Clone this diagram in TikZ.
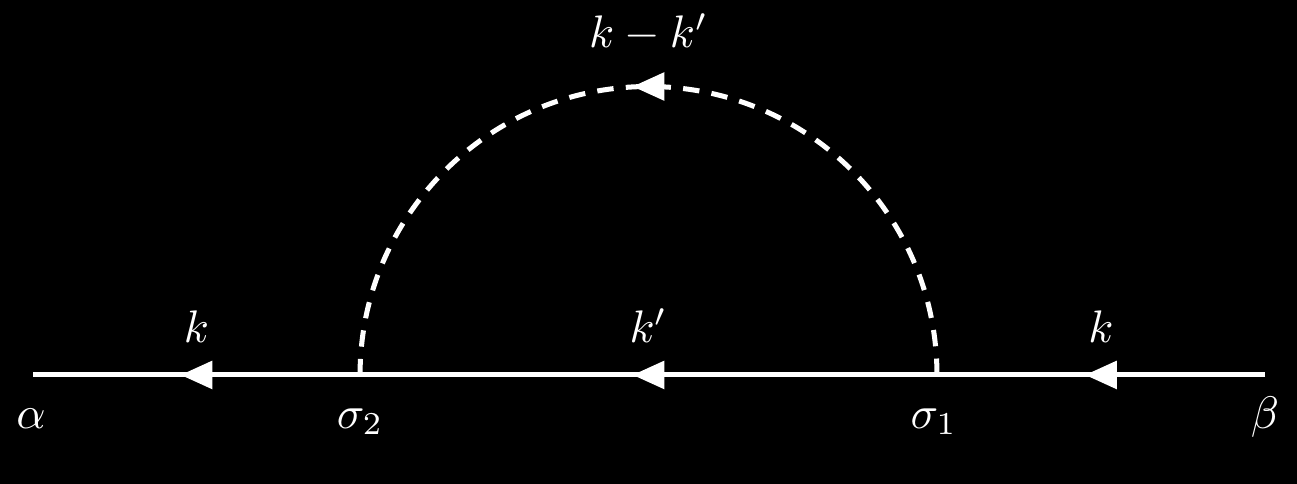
\documentclass[tikz,border=0pt]{standalone}
\usetikzlibrary{arrows.meta,decorations.markings}
\begin{document}
\begin{tikzpicture}[line width=1.1pt,
   midarrow/.style={postaction={decorate},decoration={markings,
      mark=at position 0.5 with {\arrow[xshift=3.5pt]{Triangle[length=7pt,width=6pt]}}}},
   fermion/.style={draw=white,midarrow},
   phonon/.style={draw=white,dash pattern=on 3.6pt off 2.7pt,midarrow}]
   \useasboundingbox (0,0) rectangle (10,3.724);
   \fill[black] (-0.1,-0.1) rectangle (10.1,3.824);
   \coordinate (alpha) at (0.254,0.833);
   \coordinate (sigma2) at (2.776,0.833);
   \coordinate (sigma1) at (7.224,0.833);
   \coordinate (beta) at (9.753,0.833);
   \coordinate (top) at (5,3.057);
   \draw[fermion] (beta) -- node[above=3.2pt,text=white] (kin) {$k$} (sigma1);
   \draw[fermion] (sigma1) -- node[above=3.2pt,text=white] (kmid) {$k'$} (sigma2);
   \draw[fermion] (sigma2) -- node[above=3.2pt,text=white] (kout) {$k$} (alpha);
   \draw[phonon] (sigma1) arc[start angle=0,end angle=180,radius=2.224];
   \node[above=3.8pt,text=white] (q) at (top) {$k-k'$};
   \node[anchor=base,text=white] (alabel) at (0.24,0.424) {$\alpha$};
   \node[anchor=base,text=white] (s2label) at (2.776,0.424) {$\sigma_2$};
   \node[anchor=base,text=white] (s1label) at (7.2,0.424) {$\sigma_1$};
   \node[anchor=base,text=white] (blabel) at (9.753,0.424) {$\beta$};
\end{tikzpicture}
\end{document}
